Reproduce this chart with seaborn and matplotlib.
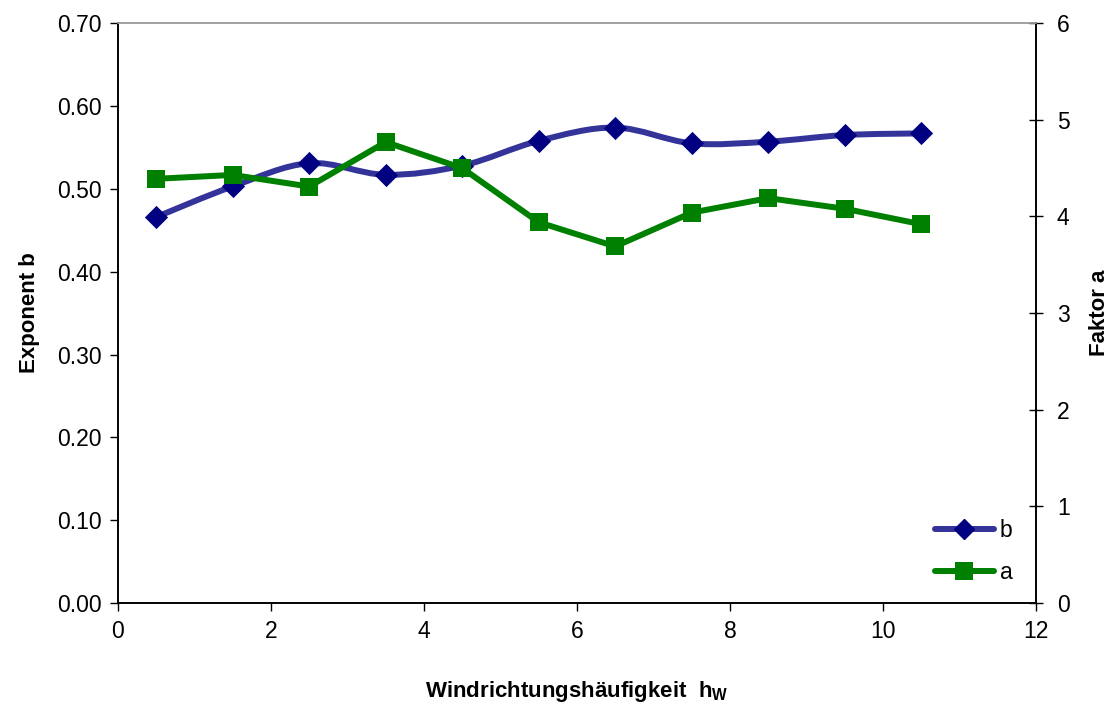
import numpy as np
import pandas as pd
import matplotlib
matplotlib.use("Agg")
import matplotlib.pyplot as plt
import seaborn as sns
from matplotlib.path import Path
from matplotlib.patches import PathPatch
from matplotlib.lines import Line2D

# values
h_w = [0.5, 1.5, 2.5, 3.5, 4.5, 5.5, 6.5, 7.5, 8.5, 9.5, 10.5]
exponent_b = [0.466, 0.503, 0.531, 0.517, 0.528, 0.558, 0.574, 0.555, 0.557, 0.565, 0.567]
faktor_a = [4.39, 4.43, 4.31, 4.77, 4.50, 3.94, 3.69, 4.04, 4.19, 4.08, 3.92]

x_ticks = [0, 2, 4, 6, 8, 10, 12]
b_ticks = [0.0, 0.1, 0.2, 0.3, 0.4, 0.5, 0.6, 0.7]
a_ticks = [0, 1, 2, 3, 4, 5, 6]

df = pd.DataFrame({"h_w": h_w, "b": exponent_b, "a": faktor_a})

sns.set_style("white")
plt.rcParams["font.family"] = ["Liberation Sans", "DejaVu Sans"]
plt.rcParams["text.color"] = "black"
plt.rcParams["axes.labelcolor"] = "black"
plt.rcParams["xtick.color"] = "black"
plt.rcParams["ytick.color"] = "black"

BLUE_LINE = "#333399"
BLUE_MARK = "#000080"
GREEN = "#008000"


def smooth_path(xs, ys):
    # Excel-style smoothed line: cubic bezier through the points
    pts = np.column_stack([xs, ys])
    verts = [pts[0]]
    codes = [Path.MOVETO]
    n = len(pts)
    for i in range(n - 1):
        p0 = pts[i - 1] if i > 0 else pts[i]
        p1 = pts[i]
        p2 = pts[i + 1]
        p3 = pts[i + 2] if i + 2 < n else pts[i + 1]
        c1 = p1 + (p2 - p0) / 6.0
        c2 = p2 - (p3 - p1) / 6.0
        verts += [c1, c2, p2]
        codes += [Path.CURVE4] * 3
    return Path(verts, codes)


fig, ax = plt.subplots(figsize=(11.11, 7.04), dpi=100)
fig.subplots_adjust(left=0.1062, right=0.9325, bottom=0.1435, top=0.967)
ax2 = ax.twinx()

# exponent b, smoothed line on the left axis
ax.add_patch(PathPatch(smooth_path(df["h_w"], df["b"]), facecolor="none",
                       edgecolor=BLUE_LINE, lw=4.3, capstyle="round", joinstyle="round"))
sns.scatterplot(data=df, x="h_w", y="b", ax=ax, marker="D", s=140,
                color=BLUE_MARK, edgecolor=BLUE_MARK, linewidth=0, zorder=3)

# faktor a, straight line on the right axis
sns.lineplot(data=df, x="h_w", y="a", ax=ax2, color=GREEN, lw=4.3,
             marker="s", markersize=13, markeredgewidth=0, markerfacecolor=GREEN)

ax.set_xlim(0, 12)
ax.set_ylim(0, 0.7)
ax2.set_ylim(0, 6)
ax.set_xticks(x_ticks)
ax.set_yticks(b_ticks)
ax.set_yticklabels([f"{v:.2f}" for v in b_ticks])
ax2.set_yticks(a_ticks)

ax.set_xlabel(r"Windrichtungshäufigkeit  h$_\mathregular{W}$", fontsize=16,
              fontweight="bold", labelpad=26)
ax.set_ylabel("Exponent b", fontsize=16, fontweight="bold", labelpad=12)
ax2.set_ylabel("Faktor a", fontsize=16, fontweight="bold", labelpad=14)

ax.tick_params(axis="both", labelsize=16.5, direction="out", length=6, width=1,
               left=True, bottom=True, pad=6)
ax2.tick_params(axis="y", labelsize=16.5, direction="inout", length=10, width=1,
                right=True, pad=10)

for a_ in (ax, ax2):
    for side in ("left", "right", "bottom"):
        a_.spines[side].set_color("black")
        a_.spines[side].set_linewidth(1.2)
    a_.spines["top"].set_color("#a0a0a0")
    a_.spines["top"].set_linewidth(1.2)
ax.grid(False)
ax2.grid(False)

handles = [
    Line2D([], [], color=BLUE_LINE, lw=4.3, marker="D", markersize=10,
           markerfacecolor=BLUE_MARK, markeredgecolor=BLUE_MARK, solid_capstyle="round"),
    Line2D([], [], color=GREEN, lw=4.3, marker="s", markersize=13,
           markerfacecolor=GREEN, markeredgewidth=0, solid_capstyle="round"),
]
ax2.legend(handles, ["b", "a"], loc="lower right", bbox_to_anchor=(0.997, -0.003),
           frameon=False, fontsize=16.5, handlelength=2.6, handletextpad=0.25,
           labelspacing=0.85)

fig.savefig("out.png", dpi=100)
